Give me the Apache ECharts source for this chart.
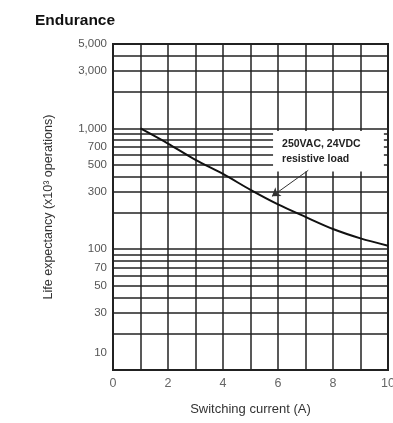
<!DOCTYPE html>
<html>
<head>
<meta charset="utf-8">
<script src="https://cdn.jsdelivr.net/npm/echarts@6/dist/echarts.min.js"></script>
<style>
  html, body { margin: 0; padding: 0; background: #fff; }
  #chart { width: 393px; height: 423px; }
</style>
</head>
<body>
<div id="chart"></div>
<script>
// switching current (A) vs life expectancy (x10^3 operations)
const current = [1, 2, 3, 4, 5, 6, 7, 8, 9, 10];
const life = [1000, 750, 550, 420, 310, 235, 185, 147, 123, 107];

const yLabelValues = [10, 30, 50, 70, 100, 300, 500, 700, 1000, 3000, 5000];
const yGridValues = [10, 20, 30, 40, 50, 60, 70, 80, 90, 100, 200, 300, 400, 500, 600, 700, 800, 900, 1000, 2000, 3000, 4000, 5000];
const xTicks = [0, 2, 4, 6, 8, 10];

const noteText = '250VAC, 24VDC\nresistive load';

const chart = echarts.init(document.getElementById('chart'));

const option = {
    animation: false,
    title: {
        text: 'Endurance',
        left: 30,
        top: 8,
        textStyle: { fontFamily: 'Liberation Sans', fontSize: 15.5, fontWeight: 'bold', color: '#111' }
    },
    grid: {
        left: 113, right: 5, top: 44, bottom: 53,
        outerBoundsMode: 'none',
        containLabel: false,
        show: true, borderColor: '#222', borderWidth: 2, backgroundColor: 'transparent'
    },
    xAxis: {
        type: 'value',
        min: 0, max: 10, interval: 1,
        name: 'Switching current (A)',
        nameLocation: 'middle',
        nameGap: 33,
        nameTextStyle: { fontFamily: 'Liberation Sans', fontSize: 13, color: '#333' },
        axisLine: { show: false },
        axisTick: { show: false },
        axisLabel: {
            fontFamily: 'Liberation Sans', fontSize: 12.5, color: '#666', margin: 7,
            formatter: v => xTicks.includes(v) ? String(v) : ''
        },
        splitLine: { show: true, lineStyle: { color: '#222', width: 1.5 } }
    },
    yAxis: {
        type: 'log',
        logBase: 10,
        min: 10, max: 5000,
        name: 'Life expectancy (x10\u00B3 operations)',
        nameLocation: 'middle',
        nameGap: 58,
        nameTextStyle: { fontFamily: 'Liberation Sans', fontSize: 12.5, color: '#333' },
        axisLine: { show: false },
        axisTick: { show: false, customValues: yGridValues },
        axisLabel: {
            customValues: yLabelValues,
            fontFamily: 'Liberation Sans', fontSize: 11.5, color: '#555', margin: 6,
            formatter: v => {
                const s = Math.round(v).toLocaleString('en-US');
                return Math.round(v) === 10 ? '{up|' + s + '}' : s;
            },
            rich: { up: { fontFamily: 'Liberation Sans', fontSize: 11.5, color: '#555', padding: [0, 0, 34, 0] } }
        },
        splitLine: { show: true, lineStyle: { color: '#222', width: 1.5 } }
    },
    series: [{
        type: 'line',
        data: current.map((c, i) => [c, life[i]]),
        smooth: 0.3,
        symbol: 'none',
        lineStyle: { color: '#111', width: 2 },
        z: 5,
        markArea: {
            silent: true,
            itemStyle: { color: '#fff' },
            label: {
                show: true, position: 'insideLeft', distance: 9,
                formatter: noteText,
                fontFamily: 'Liberation Sans', fontSize: 10.5, fontWeight: 'bold',
                color: '#222', lineHeight: 15
            },
            data: [[{ coord: [5.82, 950] }, { coord: [9.85, 440] }]]
        },
        markLine: {
            silent: true,
            symbol: ['none', 'arrow'],
            symbolSize: 8,
            lineStyle: { color: '#333', width: 1, type: 'solid' },
            label: { show: false },
            data: [[{ coord: [7.1, 450] }, { coord: [5.78, 274] }]]
        }
    }]
};

chart.setOption(option);
</script>
</body>
</html>
